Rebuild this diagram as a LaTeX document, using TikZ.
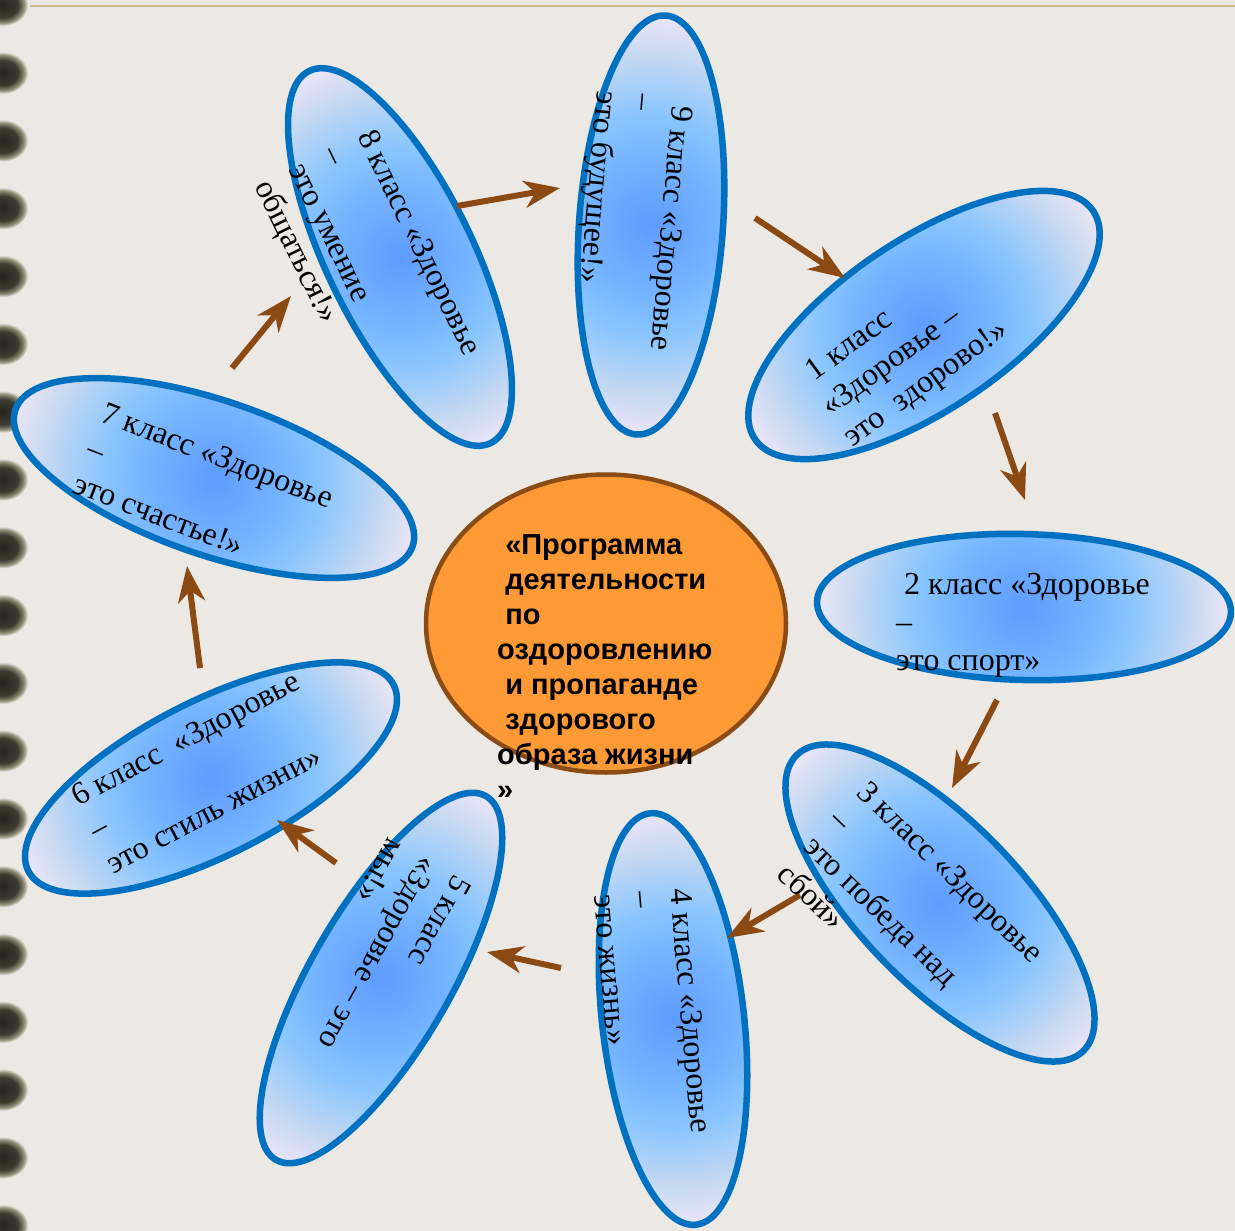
\documentclass[tikz,border=0pt]{standalone}
\usepackage{fontspec}
\setmainfont{Liberation Serif}
\newfontfamily\centerfont{Liberation Sans}
\usetikzlibrary{shapes.geometric, arrows.meta}
\definecolor{bgpaper}{HTML}{ECE8E4}
\definecolor{petalblue}{HTML}{0070C0}
\definecolor{pc0}{HTML}{5E9CFF}
\definecolor{pc1}{HTML}{74B3FF}
\definecolor{pc2}{HTML}{88C5FF}
\definecolor{pc3}{HTML}{C4D8F2}
\definecolor{pc4}{HTML}{ECE6F7}
\definecolor{centerorange}{HTML}{FE9A35}
\definecolor{centerbrown}{HTML}{8B4C14}
\definecolor{arrowbrown}{HTML}{8B4A13}
\definecolor{ringdark}{HTML}{26261E}
\definecolor{ringmid}{HTML}{3C3B30}
\definecolor{ringlight}{HTML}{8E8C74}
\definecolor{toprulecol}{HTML}{CDBD88}
\pgfdeclareradialshading{petalshade}{\pgfpoint{0bp}{0bp}}{color(0bp)=(pc0); color(8bp)=(pc1); color(13bp)=(pc2); color(20bp)=(pc3); color(25bp)=(pc4); color(50bp)=(pc4)}
\pgfdeclareradialshading{ringshade}{\pgfpoint{0bp}{0bp}}{color(0bp)=(ringdark); color(15bp)=(ringmid); color(21bp)=(ringlight); color(25bp)=(bgpaper); color(50bp)=(bgpaper)}
\newcommand\petalfill[5]{%
  \begin{scope}[transform canvas={shift={(#1,#2)},rotate=#3}]
    \clip (0,0) ellipse [x radius=#4, y radius=#5];
    \shade[shading=petalshade] (-#4,-#4) rectangle (#4,#4);
  \end{scope}}
\newcommand\lines[1]{\begin{tabular}[t]{@{}l@{}}#1\end{tabular}}
\begin{document}
\begin{tikzpicture}[x=1pt,y=-1pt,
  petalborder/.style={ellipse, draw=petalblue, line width=6.5pt, inner sep=0pt, outer sep=0pt},
  ptext/.style={font=\fontsize{32}{38}\selectfont, inner sep=0pt, anchor=base west, text=black},
  ctext/.style={font=\centerfont\bfseries\fontsize{29}{35}\selectfont, inner sep=0pt, anchor=base west, text=black},
  centerbox/.style={ellipse, draw=centerbrown, fill=centerorange, line width=4.5pt, inner sep=0pt},
  arr/.style={draw=arrowbrown, line width=6pt, -{Stealth[length=36pt, width=27pt, inset=11pt]}}]
\useasboundingbox (0,0) rectangle (1235,1231);
\fill[bgpaper] (0,0) rectangle (1235,1231);
\draw[toprulecol, line width=2.5pt] (30,6) -- (1235,6);
\foreach \k in {0,...,18} {
  \shade[shading=ringshade] (3,{5+67.8*\k}) ellipse [x radius=25, y radius=21];
}
% petal fills
\petalfill{924}{325}{34}{204}{85}
\petalfill{1024}{607}{-1.5}{207}{73}
\petalfill{940}{903}{-46}{206}{81}
\petalfill{673}{1019}{-83.6}{207}{71}
\petalfill{381}{978}{60}{210}{70}
\petalfill{211}{778}{27}{205}{77}
\petalfill{214}{478}{-19}{210}{77}
\petalfill{400}{257}{-64}{207}{73}
\petalfill{651}{225}{86}{210}{72}
% petal borders
\node[petalborder, minimum width=408pt, minimum height=170pt, rotate=34] (p1) at (924,325) {};
\node[petalborder, minimum width=414pt, minimum height=146pt, rotate=-1.5] (p2) at (1024,607) {};
\node[petalborder, minimum width=412pt, minimum height=162pt, rotate=-46] (p3) at (940,903) {};
\node[petalborder, minimum width=414pt, minimum height=142pt, rotate=-83.6] (p4) at (673,1019) {};
\node[petalborder, minimum width=420pt, minimum height=140pt, rotate=60] (p5) at (381,978) {};
\node[petalborder, minimum width=410pt, minimum height=154pt, rotate=27] (p6) at (211,778) {};
\node[petalborder, minimum width=420pt, minimum height=154pt, rotate=-19] (p7) at (214,478) {};
\node[petalborder, minimum width=414pt, minimum height=146pt, rotate=-64] (p8) at (400,257) {};
\node[petalborder, minimum width=420pt, minimum height=144pt, rotate=86] (p9) at (651,225) {};
% centre
\node[centerbox, minimum width=360pt, minimum height=298pt] (c) at (606,623.5) {};
% arrow ends
\coordinate (p8-out) at (457,206); \coordinate (p9-in) at (560,188);
\coordinate (p9-out) at (755,218); \coordinate (p1-in) at (845,278);
\coordinate (p1-out) at (995,413); \coordinate (p2-in) at (1025,500);
\coordinate (p2-out) at (997,700); \coordinate (p3-in) at (952,788);
\coordinate (p3-out) at (800,895); \coordinate (p4-in) at (727,938);
\coordinate (p4-out) at (561,968); \coordinate (p5-in) at (487,952);
\coordinate (p5-out) at (336,863); \coordinate (p6-in) at (277,820);
\coordinate (p6-out) at (200,668); \coordinate (p7-in) at (187,566);
\coordinate (p7-out) at (232,368); \coordinate (p8-in) at (291,296);
\draw[arr] (p8-out) -- (p9-in);
\draw[arr] (p9-out) -- (p1-in);
\draw[arr] (p1-out) -- (p2-in);
\draw[arr] (p2-out) -- (p3-in);
\draw[arr] (p3-out) -- (p4-in);
\draw[arr] (p4-out) -- (p5-in);
\draw[arr] (p5-out) -- (p6-in);
\draw[arr] (p6-out) -- (p7-in);
\draw[arr] (p7-out) -- (p8-in);
% texts
\node[ctext] (ct) at (497,554) {\lines{\hspace*{0.278em}«Программа\\ \hspace*{0.278em}деятельности\\ \hspace*{0.278em}по\\ оздоровлению\\ \hspace*{0.278em}и пропаганде\\ \hspace*{0.278em}здорового\\ образа жизни\\ »}};
\node[ptext, rotate=36] (t1) at (808,386) {\lines{\hspace*{0.25em}1 класс\\ «Здоровье –\\ это\ \ здорово!»}};
\node[ptext, rotate=0] (t2) at (896,594) {\lines{\hspace*{0.25em}2 класс «Здоровье\\ –\\ это спорт»}};
\node[ptext, rotate=-44] (t3) at (855,794) {\lines{3 класс «Здоровье\\ –\\ это победа над\\ сбой»}};
\node[ptext, rotate=-85] (t4) at (670,889) {\lines{4 класс «Здоровье\\ –\\ это жизнь»}};
\node[ptext, rotate=-119] (t5) at (455,873) {\lines{5 класс\\ «Здоровье – это\\ мы!»}};
\node[ptext, rotate=28] (t6) at (78,807) {\lines{6 класс\ \ «Здоровье\\ –\\ это стиль жизни»}};
\node[ptext, rotate=-21] (t7) at (99,421) {\lines{7 класс «Здоровье\\ –\\ это счастье!»}};
\node[ptext, rotate=-64] (t8) at (357,136) {\lines{8 класс «Здоровье\\ –\\ это умение\\ общаться!»}};
\node[ptext, rotate=-95] (t9) at (673,97) {\lines{\hspace*{0.25em}9 класс «Здоровье\\ –\\ это будущее!»}};
\end{tikzpicture}
\end{document}
